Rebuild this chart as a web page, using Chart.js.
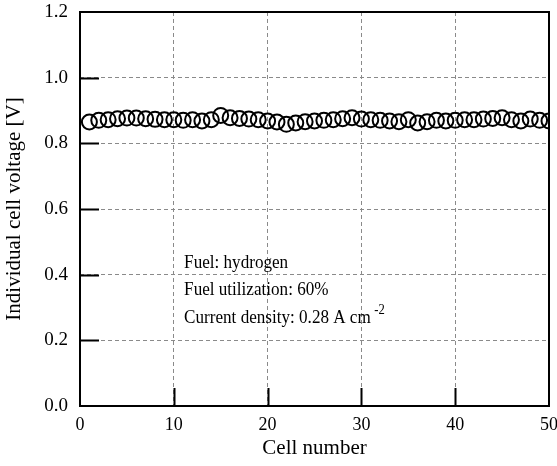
<!DOCTYPE html>
<html>
<head>
<meta charset="utf-8">
<script src="https://cdn.jsdelivr.net/npm/chart.js@4/dist/chart.umd.min.js"></script>
<style>
  html, body { margin: 0; padding: 0; background: #fff; }
  #wrap { width: 557px; height: 466px; }
</style>
</head>
<body>
<div id="wrap"><canvas id="myChart"></canvas></div>
<script>
// cell voltages
const cells = [];
for (let i = 1; i <= 50; i++) cells.push(i);
const voltages = [
  0.865, 0.870, 0.872, 0.875, 0.877, 0.877, 0.875, 0.873, 0.872, 0.872,
  0.870, 0.872, 0.868, 0.872, 0.885, 0.878, 0.876, 0.874, 0.872, 0.868,
  0.865, 0.858, 0.862, 0.866, 0.868, 0.870, 0.872, 0.875, 0.878, 0.874,
  0.872, 0.870, 0.868, 0.866, 0.872, 0.862, 0.866, 0.870, 0.868, 0.870,
  0.872, 0.872, 0.874, 0.876, 0.878, 0.872, 0.868, 0.874, 0.870, 0.868
];
const noteLines = ['Fuel: hydrogen', 'Fuel utilization: 60%', 'Current density: 0.28 A cm'];

const serif = "'Liberation Serif', 'Times New Roman', serif";

// frame, inner ticks and the text box
const framePlugin = {
  id: 'frame',
  afterDraw(chart) {
    const c = chart.ctx;
    const a = chart.chartArea;
    const xs = chart.scales.x, ys = chart.scales.y;
    c.save();
    c.strokeStyle = '#000';
    c.lineWidth = 2;
    c.strokeRect(a.left, a.top, a.right - a.left, a.bottom - a.top);
    c.beginPath();
    [10, 20, 30, 40].forEach(v => {
      const px = Math.round(xs.getPixelForValue(v)) + 0.5;
      c.moveTo(px, a.bottom);
      c.lineTo(px, a.bottom - 18);
    });
    [0.2, 0.4, 0.6, 0.8, 1.0].forEach(v => {
      const py = Math.round(ys.getPixelForValue(v)) + 0.5;
      c.moveTo(a.left, py);
      c.lineTo(a.left + 19, py);
    });
    c.stroke();

    // annotation (text in the source is a bit narrow, squeeze it)
    const tx = xs.getPixelForValue(11.1);
    const ty = [0.435, 0.352, 0.268].map(v => ys.getPixelForValue(v));
    c.translate(tx, 0);
    c.scale(0.9, 1);
    c.fillStyle = '#000';
    c.font = '19px ' + serif;
    c.textBaseline = 'middle';
    c.textAlign = 'left';
    noteLines.forEach((t, i) => c.fillText(t, 0, ty[i]));
    const w = c.measureText(noteLines[2]).width;
    c.font = '14px ' + serif;
    c.fillText('-2', w + 4, ty[2] - 8);
    c.restore();
  }
};

new Chart(document.getElementById('myChart'), {
  type: 'scatter',
  data: {
    datasets: [{
      data: cells.map((c, i) => ({ x: c, y: voltages[i] })),
      pointStyle: 'circle',
      pointRadius: 7.5,
      pointBorderWidth: 2,
      borderColor: '#000',
      backgroundColor: 'rgba(0,0,0,0)',
      pointHoverRadius: 7.5
    }]
  },
  options: {
    responsive: true,
    maintainAspectRatio: false,
    animation: false,
    layout: { autoPadding: false, padding: { top: 12, right: 8, left: 2, bottom: 0 } },
    plugins: { legend: { display: false }, tooltip: { enabled: false } },
    scales: {
      x: {
        type: 'linear',
        min: 0, max: 50,
        afterFit(s) { s.height = 60; s.paddingLeft = 0; s.paddingRight = 0; },
        ticks: { stepSize: 10, color: '#000', padding: 8, font: { family: serif, size: 18 } },
        grid: {
          drawTicks: false,
          color: ctx => (ctx.tick.value === 0 || ctx.tick.value === 50) ? 'rgba(0,0,0,0)' : '#8a8a8a',
          lineWidth: 1
        },
        border: { display: false, dash: [4, 3] },
        title: { display: true, text: 'Cell number', color: '#000', padding: { top: 0, bottom: 5 }, font: { family: serif, size: 21 } }
      },
      y: {
        min: 0, max: 1.2,
        afterFit(s) { s.width = 78; s.paddingTop = 0; s.paddingBottom = 0; },
        ticks: {
          stepSize: 0.2, color: '#000', padding: 12,
          font: { family: serif, size: 19 },
          callback: v => v.toFixed(1)
        },
        grid: {
          drawTicks: false,
          color: ctx => (ctx.tick.value === 0 || Math.abs(ctx.tick.value - 1.2) < 1e-6) ? 'rgba(0,0,0,0)' : '#8a8a8a',
          lineWidth: 1
        },
        border: { display: false, dash: [4, 3] },
        title: { display: true, text: 'Individual cell voltage [V]', color: '#000', padding: { top: 0, bottom: 2 }, font: { family: serif, size: 21 } }
      }
    }
  },
  plugins: [framePlugin]
});
</script>
</body>
</html>
